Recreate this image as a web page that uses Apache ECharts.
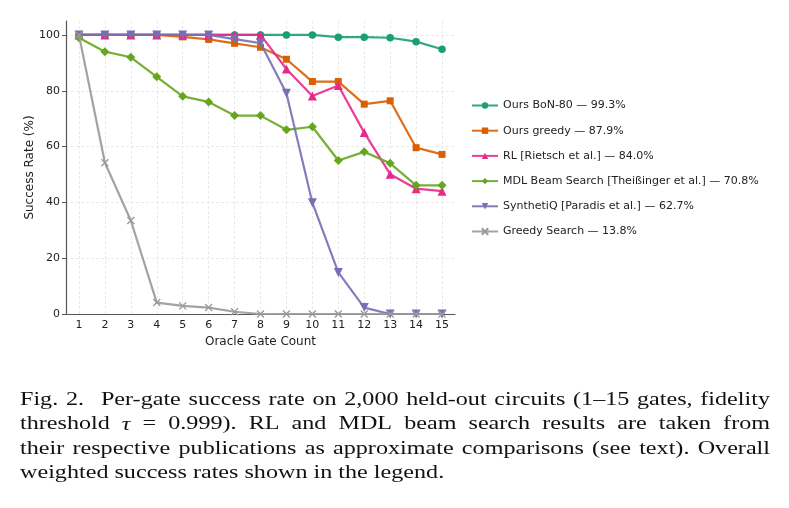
<!DOCTYPE html>
<html><head><meta charset="utf-8">
<script src="https://cdn.jsdelivr.net/npm/echarts@6/dist/echarts.min.js"></script>
<style>html,body{margin:0;padding:0;background:#fff}#c{width:789px;height:508px}</style>
</head><body><div id="c"></div>
<script>
const gateCounts = ['1','2','3','4','5','6','7','8','9','10','11','12','13','14','15'];
const yTicks = [0, 20, 40, 60, 80, 100];
const seriesNames = [
  'Ours BoN-80 — 99.3%',
  'Ours greedy — 87.9%',
  'RL [Rietsch et al.] — 84.0%',
  'MDL Beam Search [Theißinger et al.] — 70.8%',
  'SynthetiQ [Paradis et al.] — 62.7%',
  'Greedy Search — 13.8%'
];
const bon80      = [100,100,100,100,100,100,100,100,100,100,99.2,99.2,99.0,97.6,94.9];
const oursGreedy = [100,100,100,100,99.3,98.4,97.0,95.6,91.3,83.3,83.3,75.2,76.4,59.6,57.2];
const rlRietsch  = [100,100,100,100,100,100,100,100,87.8,78.1,81.9,65.0,50.1,44.9,44.0];
const mdlBeam    = [99.0,94.0,92.0,85.0,78.0,76.0,71.1,71.1,66.0,67.1,55.0,58.1,54.0,46.1,46.1];
const synthetiQ  = [100,100,100,100,100,100,98.5,97.1,79.1,39.9,14.9,2.3,0,0,0];
const greedySearch = [100,54.2,33.5,4.1,2.9,2.3,0.8,0,0,0,0,0,0,0,0];
const captionLines = [
  'Fig. 2.  Per-gate success rate on 2,000 held-out circuits (1–15 gates, fidelity',
  'threshold τ = 0.999). RL and MDL beam search results are taken from',
  'their respective publications as approximate comparisons (see text). Overall',
  'weighted success rates shown in the legend.'
];

const seriesData = [bon80, oursGreedy, rlRietsch, mdlBeam, synthetiQ, greedySearch];
const colors = ['#1b9e77','#d95f02','#e7298a','#66a61e','#7570b3','#999999'];
const symbols = ['circle','rect','triangle','diamond','triangle','path://M0,0L10,10M10,0L0,10'];
const symbolSizes = [7.5,7,9,9,9,7];

const font = '"DejaVu Sans", sans-serif';
const chart = echarts.init(document.getElementById('c'), null, {renderer:'canvas'});

const series = seriesData.map((d, i) => ({
  name: seriesNames[i], type: 'line', data: d,
  xAxisIndex: 0, yAxisIndex: 0,
  symbol: symbols[i], symbolSize: symbolSizes[i],
  symbolRotate: i === 4 ? 180 : 0,
  showAllSymbol: true,
  lineStyle: {color: colors[i], width: 2.2, opacity: 0.9},
  itemStyle: i === 5 ? {color: colors[i], borderColor: colors[i], borderWidth: 1.3} : {color: colors[i]},
  emphasis: {disabled: true},
  animation: false, z: 10 + i
}));

// caption, justified
const cv = document.createElement('canvas').getContext('2d');
const capFs = 19;
const capScaleX = 1.27;
const capLeft = 20, capRight = 770;
const capCenters = [400, 424.5, 449, 473.5];
const graphics = [];
captionLines.forEach((line, li) => {
  const tokens = line.split(/ +/);
  const fontOf = t => (t === 'τ' ? 'italic ' : '') + capFs + 'px "Liberation Serif"';
  const widths = tokens.map(t => { cv.font = fontOf(t); return cv.measureText(t).width * capScaleX; });
  const weights = tokens.slice(0, -1).map((t, k) => (li === 0 && k === 1) ? 2.2 : 1);
  const total = widths.reduce((a, b) => a + b, 0);
  const wsum = weights.reduce((a, b) => a + b, 0);
  const last = li === captionLines.length - 1;
  cv.font = capFs + 'px "Liberation Serif"';
  const sp = cv.measureText(' ').width * capScaleX;
  const gap = last ? sp : (capRight - capLeft - total) / wsum;
  let x = capLeft;
  tokens.forEach((t, k) => {
    graphics.push({type: 'text', x: x, y: capCenters[li], scaleX: capScaleX, silent: true,
      style: {text: t, fill: '#111', font: fontOf(t), verticalAlign: 'middle', align: 'left'}});
    x += widths[k] + (k < weights.length ? gap * (last ? 1 : weights[k]) : 0);
  });
});

const option = {
  animation: false,
  backgroundColor: '#fff',
  grid: [
    {left: 66, right: 334, top: 21, bottom: 194},
    {left: 66, right: 334, top: 35, bottom: 194},
    {left: 79, right: 347, top: 21, bottom: 194}
  ],
  xAxis: [
    {type: 'category', gridIndex: 0, data: gateCounts, boundaryGap: true,
     name: 'Oracle Gate Count', nameLocation: 'middle', nameGap: 21,
     nameTextStyle: {fontFamily: font, fontSize: 12, color: '#222'},
     axisLine: {lineStyle: {color: '#555', width: 1.2}},
     axisTick: {alignWithLabel: true, length: 4, lineStyle: {color: '#555'}},
     axisLabel: {fontFamily: font, fontSize: 11, color: '#222', margin: 6},
     splitLine: {show: false}},
    {type: 'value', gridIndex: 1, min: 0, max: 1, show: false},
    {type: 'value', gridIndex: 2, min: 1, max: 15, interval: 1,
     axisLine: {show: false}, axisTick: {show: false}, axisLabel: {show: false},
     splitLine: {show: true, lineStyle: {color: '#e4e4e4', width: 0.8, type: [3, 2]}}}
  ],
  yAxis: [
    {type: 'value', gridIndex: 0, min: 0, max: 105,
     name: 'Success Rate (%)', nameLocation: 'middle', nameGap: 30,
     nameTextStyle: {fontFamily: font, fontSize: 12, color: '#222'},
     axisLine: {show: true, lineStyle: {color: '#555', width: 1.2}},
     axisTick: {show: false}, axisLabel: {show: false}, splitLine: {show: false}},
    {type: 'value', gridIndex: 1, min: yTicks[0], max: yTicks[yTicks.length - 1], interval: 20,
     axisLine: {show: false},
     axisTick: {show: true, length: 4, lineStyle: {color: '#555'}},
     axisLabel: {fontFamily: font, fontSize: 11, color: '#222', margin: 6},
     splitLine: {show: true, lineStyle: {color: '#e4e4e4', width: 0.8, type: [3, 2]}}},
    {type: 'value', gridIndex: 2, min: 0, max: 1, show: false}
  ],
  legend: {
    orient: 'vertical', left: 466, top: 95,
    itemWidth: 26, itemHeight: 8, itemGap: 14.2,
    textStyle: {fontFamily: font, fontSize: 11, color: '#222'},
    data: seriesNames
  },
  series: series,
  graphic: graphics
};
chart.setOption(option);
</script>
</body></html>
